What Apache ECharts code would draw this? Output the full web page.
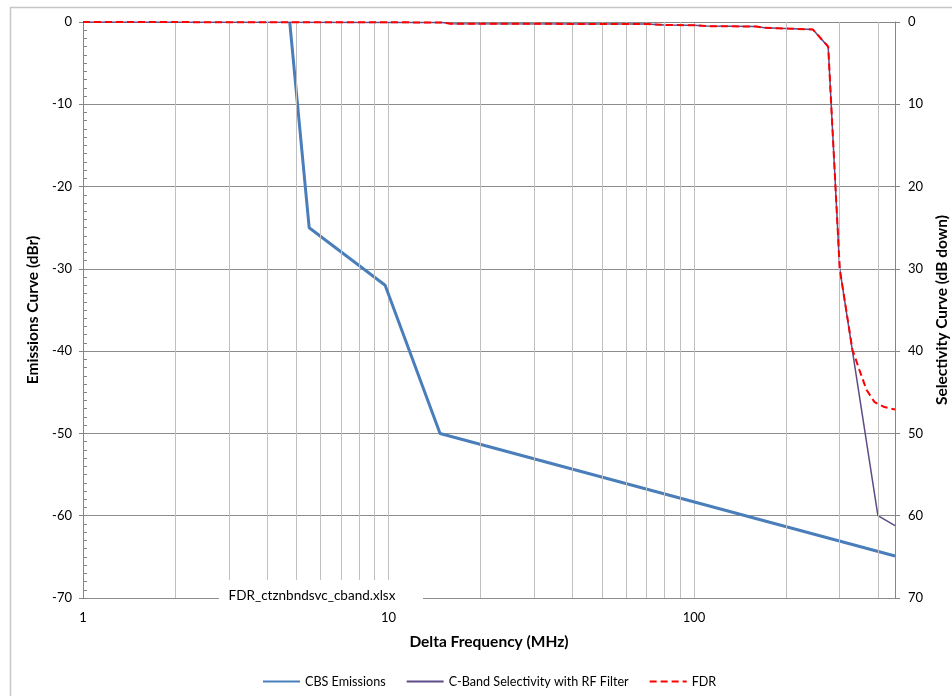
<!DOCTYPE html>
<html>
<head>
<meta charset="utf-8">
<script src="https://cdn.jsdelivr.net/npm/echarts@6/dist/echarts.min.js"></script>
<style>
html,body{margin:0;padding:0;background:#fff;}
#chart{width:952px;height:696px;}
</style>
</head>
<body>
<div id="chart"></div>
<script>
// ---- data ----
const cbsFreq = [4.75, 5.5, 9.75, 14.75, 455];
const cbsEmis = [0, -25, -32, -50, -64.9];

const selFreq = [1, 15, 16, 70, 80, 100, 110, 160, 170, 200, 245, 275, 300, 400, 455];
const selVals = [0, 0.05, 0.2, 0.25, 0.35, 0.4, 0.5, 0.55, 0.7, 0.8, 0.9, 3, 30, 60, 61.2];

const fdrFreq = [1, 15, 16, 70, 80, 100, 110, 160, 170, 200, 245, 275, 300, 330, 348, 367, 390, 420, 455];
const fdrVals = [0, 0.05, 0.2, 0.25, 0.35, 0.4, 0.5, 0.55, 0.7, 0.8, 0.9, 3, 30, 39.8, 42.3, 44.7, 46.2, 46.8, 47.1];

const xTickLabels = [1, 10, 100];
const minorGridFreqs = [2, 3, 4, 5, 6, 7, 8, 9, 20, 30, 40, 50, 60, 70, 80, 90, 200, 300, 400];
const seriesNames = ['CBS Emissions', 'C-Band Selectivity with RF Filter', 'FDR'];
const fileLabel = 'FDR_ctznbndsvc_cband.xlsx';

// ---- chart ----
const FONT = 'Lato';
const axisGray = '#868686';
const pairs = (xs, ys) => xs.map((x, i) => [x, ys[i]]);

const chart = echarts.init(document.getElementById('chart'), null, {renderer: 'canvas'});
chart.setOption({
  animation: false,
  backgroundColor: '#fff',
  textStyle: {fontFamily: FONT},
  grid: {left: 83, right: 57, top: 22, bottom: 98, containLabel: false, outerBoundsMode: 'none'},
  xAxis: {
    type: 'log', logBase: 10, min: 1, max: 455,
    name: 'Delta Frequency (MHz)', nameLocation: 'middle', nameGap: 36,
    nameTextStyle: {fontFamily: FONT, fontSize: 15.5, fontWeight: 'bold', color: '#000'},
    axisLine: {show: true, lineStyle: {color: axisGray, width: 1}},
    axisTick: {show: false},
    axisLabel: {
      fontFamily: FONT, fontSize: 13, color: '#000', margin: 13,
      formatter: v => xTickLabels.some(t => Math.abs(t - v) < 1e-6) ? String(v) : '',
      showMaxLabel: false
    },
    splitLine: {show: true, lineStyle: {color: '#bfbfbf', width: 1}}
  },
  yAxis: [
    {
      type: 'value', min: -70, max: 0, interval: 10, position: 'left',
      name: 'Emissions Curve (dBr)', nameLocation: 'middle', nameGap: 36,
      nameTextStyle: {fontFamily: FONT, fontSize: 15.5, fontWeight: 'bold', color: '#000'},
      axisLine: {show: true, lineStyle: {color: axisGray}},
      axisTick: {show: true, length: 4, lineStyle: {color: axisGray}},
      axisLabel: {fontFamily: FONT, fontSize: 13, color: '#000', margin: 11},
      splitLine: {show: true, lineStyle: {color: '#8c8c8c', width: 1}}
    },
    {
      type: 'value', min: 0, max: 70, interval: 10, position: 'right', inverse: true,
      name: 'Selectivity Curve (dB down)', nameLocation: 'middle', nameGap: 30,
      nameTextStyle: {fontFamily: FONT, fontSize: 15.5, fontWeight: 'bold', color: '#000'},
      axisLine: {show: true, lineStyle: {color: axisGray}},
      axisTick: {show: true, length: 5, lineStyle: {color: axisGray}},
      axisLabel: {fontFamily: FONT, fontSize: 13, color: '#000', margin: 13},
      splitLine: {show: false}
    },
    {
      type: 'value', min: -70, max: 0, interval: 10, position: 'left',
      axisLine: {show: false},
      axisTick: {show: true, inside: true, length: 4, lineStyle: {color: axisGray}},
      minorTick: {show: true, splitNumber: 10, length: 4, lineStyle: {color: axisGray}},
      axisLabel: {show: false},
      splitLine: {show: false}
    }
  ],
  legend: {
    bottom: 3, left: 257,
    itemWidth: 37, itemHeight: 10, itemGap: 20,
    itemStyle: {opacity: 0},
    textStyle: {fontFamily: FONT, fontSize: 12.6, color: '#000'},
    data: seriesNames
  },
  graphic: [
    {type: 'rect', z: 0, silent: true, shape: {x: 10.5, y: 7.5, width: 1000, height: 1000},
     style: {fill: 'none', stroke: '#c6c6c6', lineWidth: 1.5}},
    {type: 'rect', z: 100, silent: true, shape: {x: 219, y: 580, width: 204, height: 30},
     style: {fill: '#fff'}},
    {type: 'text', z: 101, silent: true, x: 312, y: 596,
     style: {text: fileLabel, fontFamily: FONT, fontSize: 13.5, fill: '#000', align: 'center', verticalAlign: 'middle'}}
  ],
  series: [
    {
      name: '__grid', type: 'line', data: [], z: 1, silent: true,
      markLine: {
        silent: true, symbol: ['none', 'none'], label: {show: false},
        lineStyle: {color: '#bfbfbf', width: 1, type: 'solid'},
        emphasis: {disabled: true},
        data: minorGridFreqs.map(f => ({xAxis: f}))
      }
    },
    {
      name: seriesNames[0], type: 'line', yAxisIndex: 0, z: 3,
      data: pairs(cbsFreq, cbsEmis), showSymbol: false, symbol: 'none',
      lineStyle: {color: '#4a7ebb', width: 3}, itemStyle: {color: '#4a7ebb'}
    },
    {
      name: seriesNames[1], type: 'line', yAxisIndex: 1, z: 4,
      data: pairs(selFreq, selVals), showSymbol: false, symbol: 'none',
      lineStyle: {color: '#5e4b88', width: 1.5}, itemStyle: {color: '#5e4b88'}
    },
    {
      name: seriesNames[2], type: 'line', yAxisIndex: 1, z: 5,
      data: pairs(fdrFreq, fdrVals), showSymbol: false, symbol: 'none',
      lineStyle: {color: '#ff0000', width: 2, type: [7, 4]}, itemStyle: {color: '#ff0000'}
    }
  ]
});
</script>
</body>
</html>
